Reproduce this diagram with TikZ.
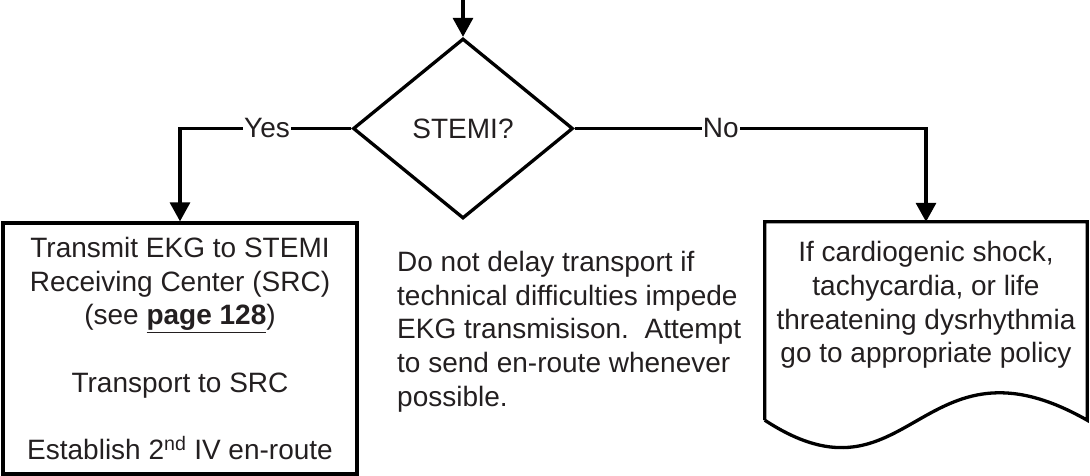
\documentclass[tikz,border=0pt]{standalone}
\usepackage{fontspec}
\setmainfont{Liberation Sans}
\usetikzlibrary{arrows.meta,shapes.geometric}
\definecolor{txt}{RGB}{35,31,32}
\tikzset{
  ln/.style={line width=3.3pt, draw=black},
  arr/.style={ln, -{Triangle[width=20pt,length=19pt]}},
  lbl/.style={fill=white, inner sep=1pt, text=txt, font=\fontsize{28}{33.7}\selectfont},
  txtnode/.style={text=txt, font=\fontsize{28}{33.7}\selectfont, inner sep=0pt},
  boxnode/.style={ln, rectangle, inner sep=0pt},
}
\begin{document}
\begin{tikzpicture}[x=1pt,y=-1pt]
\useasboundingbox (0,0) rectangle (1090,476);
\coordinate (start) at (463,0);
\node[ln, diamond, aspect=1.2222, minimum width=220pt, minimum height=180pt, inner sep=0pt, txtnode, draw=black] (q) at (463,128.5) {STEMI?};
\node[boxnode, txtnode, draw=black, minimum width=354pt, minimum height=251pt, align=center] (src) at (180,348.5)
  {Transmit EKG to STEMI\\Receiving Center (SRC)\\(see \textbf{\underline{page 128}})\\[33.7pt]Transport to SRC\\[33.7pt]Establish 2\textsuperscript{nd} IV en-route};
\node[txtnode, align=left, anchor=west] (note) at (397,331.5)
  {Do not delay transport if\\technical difficulties impede\\EKG transmisison.~~Attempt\\to send en-route whenever\\possible.};
\node[rectangle, minimum width=322pt, minimum height=198pt, inner sep=0pt] (doc) at (926,321) {};
\node[txtnode, align=center] (doctxt) at (926,305)
  {If cardiogenic shock,\\tachycardia, or life\\threatening dysrhythmia\\go to appropriate policy};
\draw[ln, line join=miter] (doc.south west) -- (doc.north west) -- (doc.north east) -- (doc.south east)
  .. controls ([xshift=-167pt,yshift=95pt]doc.south east) and ([xshift=145pt,yshift=-95pt]doc.south west) .. (doc.south west);
\draw[arr] (start) -- (q.north);
\draw[arr] (q.west) -| node[lbl, pos=0.246]{Yes} (src.north);
\draw[arr] (q.east) -| node[lbl, pos=0.208]{No} (doc.north);
\end{tikzpicture}
\end{document}
